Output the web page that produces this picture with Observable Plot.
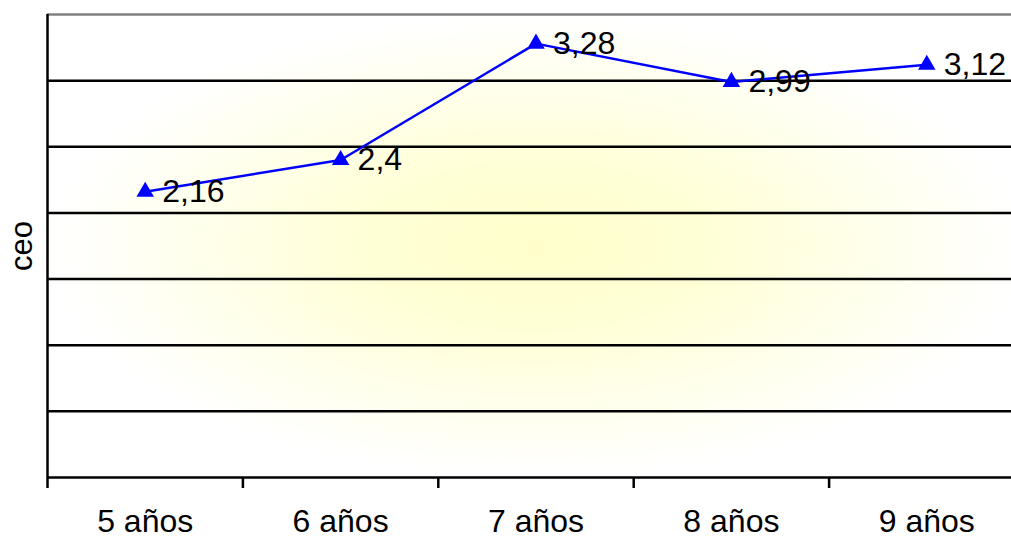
<!DOCTYPE html>
<html><head><meta charset="utf-8">
<script src="https://cdn.jsdelivr.net/npm/d3@7"></script>
<script src="https://cdn.jsdelivr.net/npm/@observablehq/plot@0.6"></script>
<style>body{margin:0;background:#fff;} svg{display:block;overflow:hidden}</style>
</head><body><div id="chart"></div>
<script>
const categories = ["5 años","6 años","7 años","8 años","9 años"];
const values = [2.16, 2.4, 3.28, 2.99, 3.12];
const yGrid = [0.5, 1, 1.5, 2, 2.5, 3];
const yMax = 3.5;
const yLabel = "ceo";
const data = categories.map((c, i) => ({pos: i + 0.5, cat: c, value: values[i], label: String(values[i]).replace(".", ",")}));

const chart = Plot.plot({
  width: 1011, height: 538,
  marginLeft: 47, marginRight: -13, marginTop: 14, marginBottom: 61,
  style: {fontFamily: "'Liberation Sans', Arial, sans-serif", background: "white", overflow: "hidden"},
  x: {type: "linear", domain: [0, categories.length], axis: null},
  y: {domain: [0, yMax], axis: null},
  marks: [
    Plot.frame({fill: "#ffffd0", stroke: "none"}),
    Plot.ruleY(yGrid, {stroke: "black", strokeWidth: 2.5}),
    Plot.ruleY([yMax], {stroke: "#808080", strokeWidth: 2.5}),
    Plot.ruleY([0], {stroke: "black", strokeWidth: 2.5}),
    Plot.ruleX([0], {y1: 0, y2: yMax, stroke: "black", strokeWidth: 2.5}),
    Plot.axisX({ticks: categories.map((c, i) => i), tickSize: 11, tickFormat: () => "", label: null, strokeWidth: 2.5, stroke: "black"}),
    Plot.axisX({ticks: data.map(d => d.pos), tickSize: 0, tickPadding: 32, label: null, tickFormat: d => categories[Math.floor(d)], fontSize: 32, fill: "black"}),
    Plot.line(data, {x: "pos", y: "value", stroke: "#0000ff", strokeWidth: 2.5}),
    Plot.dot(data, {x: "pos", y: "value", symbol: "triangle", r: 6.5, fill: "#0000ff", stroke: "none"}),
    Plot.text(data, {x: "pos", y: "value", text: "label", textAnchor: "start", dx: 17, fontSize: 32, fill: "black"}),
    Plot.text([yLabel], {frameAnchor: "left", textAnchor: "middle", dx: -25, rotate: -90, fontSize: 31, fill: "black"})
  ]
});
// radial background gradient
const ns = "http://www.w3.org/2000/svg";
const defs = document.createElementNS(ns, "defs");
defs.innerHTML = `<radialGradient id="bg" cx="0.5" cy="0.5" r="0.5">
  <stop offset="0" stop-color="#ffffcc"/>
  <stop offset="0.35" stop-color="#ffffd6"/>
  <stop offset="0.75" stop-color="#fffff0"/>
  <stop offset="1" stop-color="#ffffff"/>
</radialGradient>`;
chart.insertBefore(defs, chart.firstChild);
const frame = chart.querySelector('[aria-label="frame"]');
if (frame) { (frame.tagName === "rect" ? [frame] : frame.querySelectorAll("rect")).forEach(r => r.setAttribute("fill", "url(#bg)")); frame.setAttribute("fill", "url(#bg)"); }
document.getElementById("chart").appendChild(chart);
</script>
</body></html>
